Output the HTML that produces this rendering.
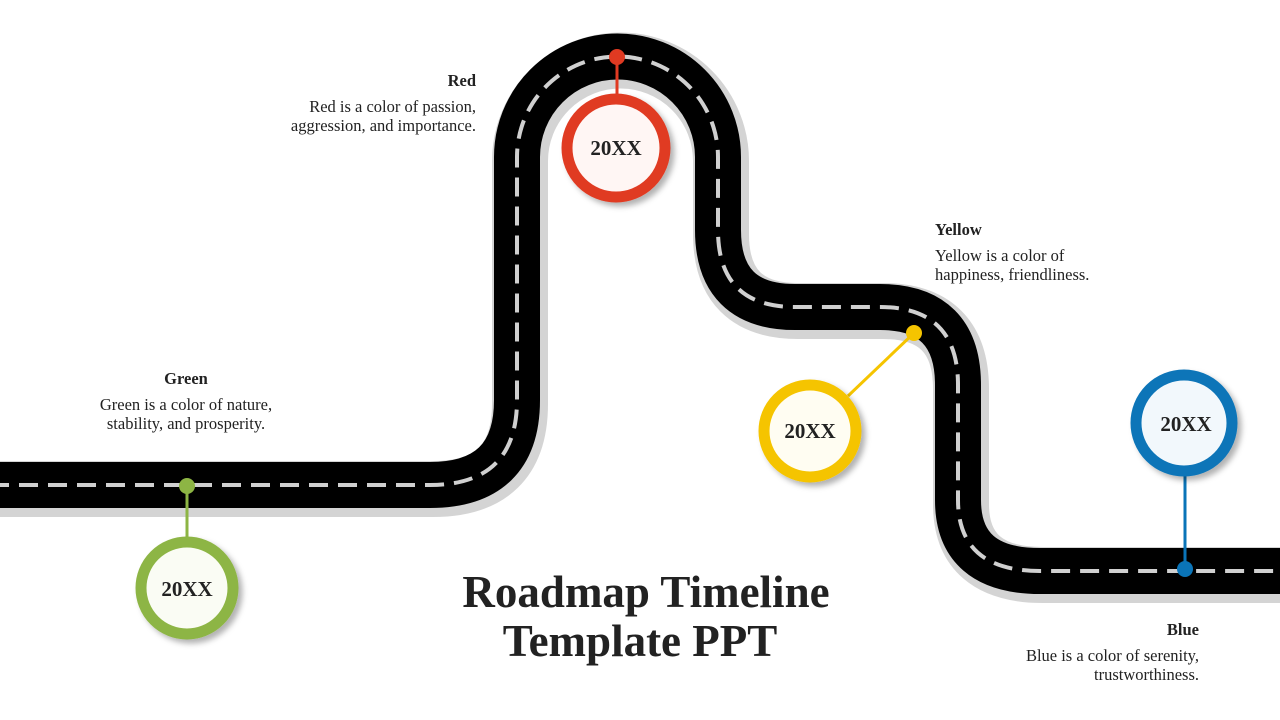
<!DOCTYPE html>
<html><head><meta charset="utf-8"><style>
html,body{margin:0;padding:0;background:#fff;}
svg{display:block;}
text{font-family:"Liberation Serif",serif;fill:#222;}
</style></head><body>
<svg width="1280" height="720" viewBox="0 0 1280 720" xmlns="http://www.w3.org/2000/svg">
<defs>
<filter id="sh" x="-20%" y="-20%" width="140%" height="140%"><feDropShadow dx="4" dy="4" stdDeviation="3" flood-color="#000" flood-opacity="0.3"/></filter>
</defs>
<path d="M-10,485 L430,485 Q517,485 517,400 L517,157 A100.5,100.5 0 0 1 718,157 L718,230 Q718,307 795,307 L880,307 Q958,307 958,385 L958,500 Q958,571 1040,571 L1290,571" fill="none" stroke="#d4d4d4" stroke-width="56" transform="translate(3,4)"/>
<path d="M-10,485 L430,485 Q517,485 517,400 L517,157 A100.5,100.5 0 0 1 718,157 L718,230 Q718,307 795,307 L880,307 Q958,307 958,385 L958,500 Q958,571 1040,571 L1290,571" fill="none" stroke="#000" stroke-width="46"/>
<path d="M-10,485 L430,485 Q517,485 517,400 L517,157 A100.5,100.5 0 0 1 718,157 L718,230 Q718,307 795,307 L880,307 Q958,307 958,385 L958,500 Q958,571 1040,571 L1290,571" fill="none" stroke="#d0d0d0" stroke-width="4" stroke-dasharray="19 10"/>

<line x1="187" y1="486" x2="187" y2="540" stroke="#8db544" stroke-width="3"/>
<circle cx="187" cy="486" r="8" fill="#8db544"/>
<line x1="617" y1="57" x2="617" y2="100" stroke="#e03a22" stroke-width="3"/>
<circle cx="617" cy="57" r="8" fill="#e03a22"/>
<line x1="914" y1="333" x2="848" y2="396" stroke="#f5c400" stroke-width="3"/>
<circle cx="914" cy="333" r="8" fill="#f5c400"/>
<line x1="1185" y1="569" x2="1185" y2="470" stroke="#0a74b8" stroke-width="3"/>
<circle cx="1185" cy="569" r="8" fill="#0a74b8"/>

<g filter="url(#sh)">
<circle cx="187" cy="588" r="46" fill="#fafcf4" stroke="#8db544" stroke-width="11"/>
<circle cx="616" cy="148" r="49" fill="#fff6f4" stroke="#e03a22" stroke-width="11"/>
<circle cx="810" cy="431" r="46" fill="#fffdf2" stroke="#f5c400" stroke-width="11"/>
<circle cx="1184" cy="423" r="48" fill="#f2f8fc" stroke="#0a74b8" stroke-width="11"/>
</g>
<g font-size="21" font-weight="bold" text-anchor="middle">
<text x="187" y="596">20XX</text>
<text x="616" y="155">20XX</text>
<text x="810" y="438">20XX</text>
<text x="1186" y="431">20XX</text>
</g>

<g font-size="16.5">
<text x="186" y="384" text-anchor="middle" font-weight="bold">Green</text>
<text x="186" y="410" text-anchor="middle">Green is a color of nature,</text>
<text x="186" y="429" text-anchor="middle">stability, and prosperity.</text>
<text x="476" y="86" text-anchor="end" font-weight="bold">Red</text>
<text x="476" y="112" text-anchor="end">Red is a color of passion,</text>
<text x="476" y="131" text-anchor="end">aggression, and importance.</text>
<text x="935" y="235" font-weight="bold">Yellow</text>
<text x="935" y="261">Yellow is a color of</text>
<text x="935" y="280">happiness, friendliness.</text>
<text x="1199" y="635" text-anchor="end" font-weight="bold">Blue</text>
<text x="1199" y="661" text-anchor="end">Blue is a color of serenity,</text>
<text x="1199" y="680" text-anchor="end">trustworthiness.</text>
</g>
<g font-size="45" font-weight="bold" text-anchor="middle">
<text x="646" y="607" fill="#000">Roadmap Timeline</text>
<text x="640" y="656" fill="#000">Template PPT</text>
</g>
</svg>
</body></html>
